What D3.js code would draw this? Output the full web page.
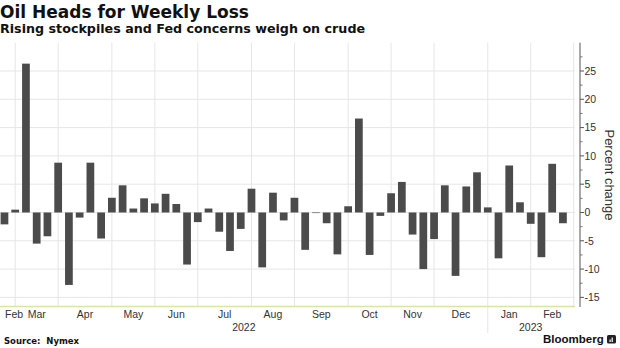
<!DOCTYPE html>
<html><head><meta charset="utf-8">
<script src="https://cdn.jsdelivr.net/npm/d3@7"></script>
<style>body{margin:0;background:#fff}svg{display:block}</style>
</head><body>
<svg id="chart" width="620" height="348"></svg>
<script>
// ---- data (week ending dates, weekly % change in crude) ----
const weeks = [
  "2022-02-25","2022-03-04","2022-03-11","2022-03-18","2022-03-25",
  "2022-04-01","2022-04-08","2022-04-15","2022-04-22","2022-04-29",
  "2022-05-06","2022-05-13","2022-05-20","2022-05-27",
  "2022-06-03","2022-06-10","2022-06-17","2022-06-24",
  "2022-07-01","2022-07-08","2022-07-15","2022-07-22","2022-07-29",
  "2022-08-05","2022-08-12","2022-08-19","2022-08-26",
  "2022-09-02","2022-09-09","2022-09-16","2022-09-23","2022-09-30",
  "2022-10-07","2022-10-14","2022-10-21","2022-10-28",
  "2022-11-04","2022-11-11","2022-11-18","2022-11-25",
  "2022-12-02","2022-12-09","2022-12-16","2022-12-23","2022-12-30",
  "2023-01-06","2023-01-13","2023-01-20","2023-01-27",
  "2023-02-03","2023-02-10","2023-02-17","2023-02-24"
];
const changes = [
  -2.1, 0.5, 26.3, -5.5, -4.2,
  8.8, -12.8, -0.9, 8.8, -4.6,
  2.6, 4.8, 0.7, 2.5,
  1.6, 3.3, 1.5, -9.2,
  -1.7, 0.7, -3.4, -6.8, -2.9,
  4.2, -9.7, 3.5, -1.4,
  2.6, -6.6, -0.1, -1.9, -7.4,
  1.1, 16.6, -7.5, -0.6,
  3.4, 5.4, -3.9, -10.0,
  -4.7, 4.8, -11.2, 4.6, 7.1,
  0.9, -8.1, 8.3, 1.8,
  -2.0, -7.9, 8.6, -1.9
];
const yTicks = [-15, -10, -5, 0, 5, 10, 15, 20, 25];
const yMinorTicks = [-12.5, -7.5, -2.5, 2.5, 7.5, 12.5, 17.5, 22.5, 27.5];
const yDomain = [-16.7, 30];
const titleText = "Oil Heads for Weekly Loss";
const subtitleText = "Rising stockpiles and Fed concerns weigh on crude";
const axisTitle = "Percent change";
const sourceText = "Source:\u00a0\u00a0Nymex";

// ---- layout ----
const svg = d3.select("#chart");
const plot = {left: 0, right: 575, top: 42.7, bottom: 307};
const axisX = 580;
const tickFont = "'Liberation Sans', Arial, sans-serif";
const parse = d3.timeParse("%Y-%m-%d");
const dates = weeks.map(parse);
const data = dates.map((d, i) => ({date: d, key: weeks[i], value: changes[i]}));

const x = d3.scaleBand().domain(weeks).range([-0.9, 568.3]).paddingInner(0.28).paddingOuter(0.14);
const step = x.step();
const cx = k => x(k) + x.bandwidth() / 2;
const y = d3.scaleLinear().domain(yDomain).range([plot.bottom, plot.top]);

svg.append("rect").attr("width", 620).attr("height", 348).attr("fill", "#fff");

// horizontal grid
svg.append("g").selectAll("line").data(yTicks).join("line")
  .attr("x1", plot.left).attr("x2", plot.right)
  .attr("y1", d => y(d)).attr("y2", d => y(d))
  .attr("stroke", "#e6e6e6").attr("stroke-width", 1);

// month groups
const monthFmt = d3.timeFormat("%b");
const groups = [];
data.forEach((d, i) => {
  const m = d.date.getFullYear() * 12 + d.date.getMonth();
  if (!groups.length || groups[groups.length - 1].m !== m) groups.push({m, start: i, date: d.date});
});
const endX = cx(weeks[weeks.length - 1]) + step;
groups.forEach((g, i) => {
  g.x0 = i === 0 ? plot.left : cx(weeks[g.start]);
  g.x1 = i < groups.length - 1 ? cx(weeks[groups[i + 1].start]) : endX;
});
// vertical gridlines at month starts
const vLines = groups.slice(1).map(g => g.x0).concat([endX]);
svg.append("g").selectAll("line").data(vLines).join("line")
  .attr("x1", d => d).attr("x2", d => d)
  .attr("y1", plot.top).attr("y2", plot.bottom)
  .attr("stroke", "#e6e6e6").attr("stroke-width", 1);

// bars
svg.append("g").selectAll("rect").data(data).join("rect")
  .attr("x", d => x(d.key))
  .attr("width", x.bandwidth())
  .attr("y", d => Math.min(y(d.value), y(0)))
  .attr("height", d => Math.max(0.6, Math.abs(y(d.value) - y(0))))
  .attr("fill", "#4b4b4b");

// baseline (bottom)
svg.append("line").attr("x1", plot.left).attr("x2", plot.right)
  .attr("y1", plot.bottom - 0.5).attr("y2", plot.bottom - 0.5)
  .attr("stroke", "#d6e6a2").attr("stroke-width", 1.5);

// month labels
const ml = svg.append("g").attr("font-family", tickFont).attr("font-size", 10.5).attr("fill", "#333");
groups.forEach(g => {
  const t = ml.append("text").attr("y", 318.3).attr("text-anchor", "middle").text(monthFmt(g.date));
  const w = t.node().getComputedTextLength();
  const c = Math.max((g.x0 + g.x1) / 2, plot.left + 5 + w / 2);
  t.attr("x", c);
});

// years
const years = [];
groups.forEach(g => {
  const yr = g.date.getFullYear();
  if (!years.length || years[years.length - 1].yr !== yr) years.push({yr, x0: g.x0});
});
years.forEach((yy, i) => { yy.x1 = i < years.length - 1 ? years[i + 1].x0 : endX; });
svg.append("g").selectAll("line").data(years.slice(1)).join("line")
  .attr("x1", d => d.x0).attr("x2", d => d.x0)
  .attr("y1", plot.bottom).attr("y2", 333)
  .attr("stroke", "#e6e6e6");
svg.append("g").attr("font-family", tickFont).attr("font-size", 10.5).attr("fill", "#333")
  .selectAll("text").data(years).join("text")
  .attr("x", d => (d.x0 + d.x1) / 2).attr("y", 331)
  .attr("text-anchor", "middle").text(d => String(d.yr));

// right y axis
const ax = svg.append("g").attr("transform", `translate(${axisX},0)`);
ax.append("line").attr("x1", 0).attr("x2", 0).attr("y1", plot.top).attr("y2", plot.bottom)
  .attr("stroke", "#555");
ax.selectAll("line.maj").data(yTicks).join("line").attr("class", "maj")
  .attr("x1", 0).attr("x2", 4).attr("y1", d => y(d)).attr("y2", d => y(d)).attr("stroke", "#555");
ax.selectAll("line.min").data(yMinorTicks).join("line").attr("class", "min")
  .attr("x1", 0).attr("x2", 2.5).attr("y1", d => y(d)).attr("y2", d => y(d)).attr("stroke", "#777");
ax.selectAll("text").data(yTicks).join("text")
  .attr("x", 4.5).attr("y", d => y(d)).attr("dy", "0.36em")
  .attr("font-family", tickFont).attr("font-size", 10.5).attr("fill", "#333")
  .text(d => d < 0 ? "-" + Math.abs(d) : String(d));

svg.append("text").attr("transform", "translate(605,175) rotate(90)")
  .attr("text-anchor", "middle").attr("font-family", tickFont).attr("font-size", 13)
  .attr("fill", "#333").text(axisTitle);

// titles
svg.append("text").attr("x", 0).attr("y", 18.3)
  .attr("font-family", "'DejaVu Sans', sans-serif").attr("font-weight", "bold")
  .attr("font-size", 17).attr("fill", "#111").text(titleText);
svg.append("text").attr("x", 0).attr("y", 33.3)
  .attr("font-family", "'DejaVu Sans', sans-serif").attr("font-weight", "bold")
  .attr("font-size", 12.7).attr("fill", "#111").text(subtitleText);

// footer
svg.append("text").attr("x", 4).attr("y", 344)
  .attr("font-family", "'DejaVu Sans', sans-serif").attr("font-weight", "bold")
  .attr("font-size", 8.5).attr("fill", "#111").text(sourceText);
svg.append("text").attr("x", 543).attr("y", 343)
  .attr("font-family", tickFont).attr("font-weight", "bold")
  .attr("font-size", 11.5).attr("fill", "#111").text("Bloomberg");
const logo = svg.append("g").attr("transform", "translate(607,335)");
logo.append("rect").attr("width", 9).attr("height", 8.5).attr("rx", 1.5).attr("fill", "#222");
logo.append("rect").attr("x", 2.5).attr("y", 4.5).attr("width", 1.2).attr("height", 2.5).attr("fill", "#fff");
logo.append("rect").attr("x", 4.6).attr("y", 2.5).attr("width", 1.2).attr("height", 4.5).attr("fill", "#fff");
</script>
</body></html>
